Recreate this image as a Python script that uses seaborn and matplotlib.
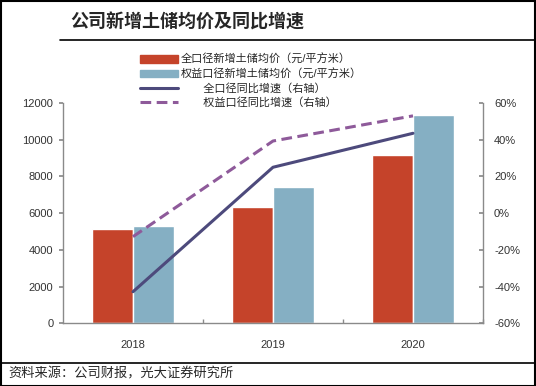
import numpy as np
import pandas as pd
import matplotlib
matplotlib.use("Agg")
import matplotlib.pyplot as plt
import seaborn as sns
from matplotlib.lines import Line2D
from matplotlib.patches import Rectangle

years = ["2018", "2019", "2020"]
price_all = [5140, 6355, 9171]
price_equity = [5286, 7411, 11335]
yoy_all = [-42.8, 25.0, 43.5]
yoy_equity = [-12.8, 39.3, 53.0]
bar_labels = ["全口径新增土储均价（元/平方米）", "权益口径新增土储均价（元/平方米）"]
line_labels = ["全口径同比增速（右轴）", "权益口径同比增速（右轴）"]
title = "公司新增土储均价及同比增速"
source = "资料来源：公司财报，光大证券研究所"

RED = "#C5432A"
BLUE = "#85AFC3"
NAVY = "#4D4A7C"
PURPLE = "#8E5A9A"

sns.set_theme(style="white")
plt.rcParams["font.family"] = ["Liberation Sans", "Noto Sans CJK SC", "DejaVu Sans"]

df = pd.DataFrame({
    "year": years * 2,
    "price": price_all + price_equity,
    "series": [bar_labels[0]] * len(years) + [bar_labels[1]] * len(years),
})

fig = plt.figure(figsize=(5.36, 3.86), dpi=100)
ax = fig.add_axes([63 / 536, 1 - 323.3 / 386, 420 / 536, 220.3 / 386])

sns.barplot(data=df, x="year", y="price", hue="series", palette=[RED, BLUE],
            width=0.58, saturation=1, ax=ax, legend=False, errorbar=None)
ax.set_xlim(-0.5, len(years) - 0.5)
ax.set_ylim(0, 12000)
ax.set_yticks(np.arange(0, 12001, 2000))
ax.set_xlabel("")
ax.set_ylabel("")

ax2 = ax.twinx()
xpos = np.arange(len(years))
lines_df = pd.DataFrame({"x": np.concatenate([xpos, xpos]),
                         "v": yoy_all + yoy_equity,
                         "s": [line_labels[0]] * 3 + [line_labels[1]] * 3})
sns.lineplot(x=xpos, y=yoy_all, color=NAVY, lw=2.2, ax=ax2)
sns.lineplot(x=xpos, y=yoy_equity, color=PURPLE, lw=2.2, ax=ax2, linestyle=(0, (3.5, 1.8)))
ax2.set_ylim(-60, 60)
ax2.set_yticks(np.arange(-60, 61, 20))
ax2.set_yticklabels([f"{v}%" for v in range(-60, 61, 20)])
ax.set_xlim(-0.5, len(years) - 0.5)

spine_c = "#8a8a8a"
for a in (ax, ax2):
    for s in a.spines.values():
        s.set_visible(False)
ax.spines["left"].set_visible(True)
ax.spines["bottom"].set_visible(True)
ax2.spines["right"].set_visible(True)
for s in (ax.spines["left"], ax.spines["bottom"], ax2.spines["right"]):
    s.set_color(spine_c)
    s.set_linewidth(1.0)

ax.tick_params(axis="y", left=True, direction="out", length=3, color=spine_c,
               labelsize=8, labelcolor="#333333", pad=4)
ax2.tick_params(axis="y", right=True, direction="in", length=3, color=spine_c,
                labelsize=8, labelcolor="#333333", pad=8)
ax.set_xticks(xpos)
ax.set_xticklabels(years)
ax.tick_params(axis="x", bottom=False, labelsize=8, labelcolor="#333333", pad=6)
ax.set_xticks([0.5, 1.5, 2.5], minor=True)
ax.tick_params(axis="x", which="minor", bottom=True, direction="in", length=3, color=spine_c)

handles = [Rectangle((0, 0), 1, 1, color=RED), Rectangle((0, 0), 1, 1, color=BLUE),
           Line2D([], [], color=NAVY, lw=2.2),
           Line2D([], [], color=PURPLE, lw=2.2, linestyle=(0, (3.5, 1.8)))]
labels = bar_labels + ["\u3000\u3000" + line_labels[0], "\u3000\u3000" + line_labels[1]]
fig.legend(handles, labels, loc="upper left", bbox_to_anchor=(140 / 536, 1 - 54 / 386),
           frameon=False, fontsize=8, handlelength=3.4, handleheight=0.7,
           handletextpad=0.3, labelspacing=0.3, borderpad=0, borderaxespad=0)

fig.text(70 / 536, 1 - 22 / 386, title, fontsize=13, fontweight="bold",
         va="center", ha="left", family=["Noto Sans CJK SC", "DejaVu Sans"])
fig.text(8 / 536, 1 - 374 / 386, source, fontsize=9.5, va="center", ha="left",
         family=["Noto Sans CJK SC", "DejaVu Sans"])

fig.add_artist(Line2D([60 / 536, 1], [1 - 39.5 / 386] * 2, color="black", lw=1.2,
                      transform=fig.transFigure))
fig.add_artist(Line2D([0, 1], [1 - 363 / 386] * 2, color="black", lw=1.2,
                      transform=fig.transFigure))
fig.add_artist(Rectangle((0.001, 0.001), 0.997, 0.997, fill=False, edgecolor="black",
                         lw=1.5, transform=fig.transFigure))

fig.savefig("out.png", dpi=100)
